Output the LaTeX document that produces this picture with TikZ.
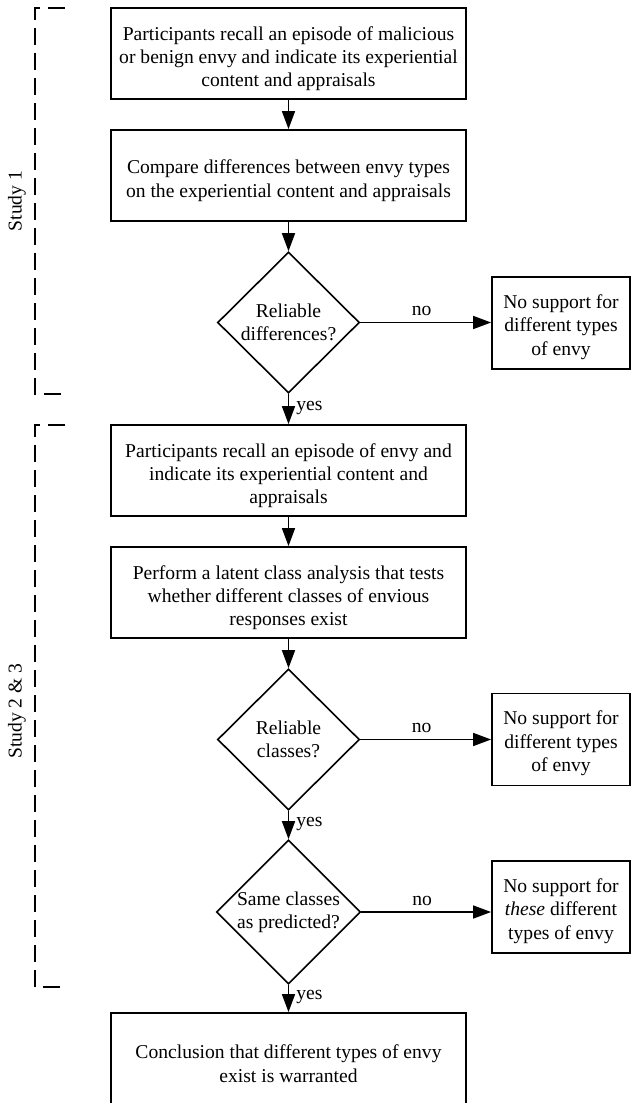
\documentclass[tikz,border=0pt]{standalone}
\usepackage{fontspec}
\setmainfont{Liberation Serif}
\usetikzlibrary{shapes.geometric,arrows.meta}
\newcommand\toppad{\rule{0pt}{24pt}}
\newcommand\sidepad{\rule{0pt}{21.5pt}}
\tikzset{
  every node/.style={font=\fontsize{19.6}{23.4}\selectfont},
  mainbox/.style={draw, line width=1.8pt, minimum width=355pt, minimum height=91pt, align=center, inner sep=0pt},
  sidebox/.style={draw, line width=1.8pt, minimum width=138pt, minimum height=92pt, align=center, inner sep=0pt},
  decide/.style={draw, diamond, line width=1.6pt, minimum width=142pt, minimum height=141pt, align=center, inner sep=0pt},
  conn/.style={line width=1.6pt, -{Triangle[length=18pt,width=13pt]}},
  bracket/.style={line width=1.8pt, dash pattern=on 17pt off 8pt},
  yeslbl/.style={inner sep=2pt, right=5pt, yshift=1pt},
  nolbl/.style={inner sep=2pt, above=4pt, xshift=-4pt}
}
\begin{document}
\begin{tikzpicture}[x=1pt,y=-1pt]
\useasboundingbox (0,0) rectangle (631,1103);

\node[mainbox] (b1) at (288.5,53.5) {\toppad Participants recall an episode of malicious\\or benign envy and indicate its experiential\\content and appraisals};
\node[mainbox] (b2) at (288.5,175.5) {\toppad Compare differences between envy types\\on the experiential content and appraisals};
\node[decide] (d1) at (288.5,322.5) {Reliable\\differences?};
\node[sidebox] (s1) at (561,323) {\sidepad No support for\\different types\\of envy};
\node[mainbox] (b3) at (288.5,470.5) {\toppad Participants recall an episode of envy and\\indicate its experiential content and\\appraisals};
\node[mainbox] (b4) at (288.5,592.5) {\toppad Perform a latent class analysis that tests\\whether different classes of envious\\responses exist};
\node[decide] (d2) at (288.5,739.5) {Reliable\\classes?};
\node[sidebox] (s2) at (561,739.5) {\sidepad No support for\\different types\\of envy};
\node[decide] (d3) at (288.5,912) {Same classes\\as predicted?};
\node[sidebox] (s3) at (561,907) {\sidepad No support for\\\textit{these} different\\types of envy};
\node[mainbox] (b5) at (288.5,1058.5) {\toppad Conclusion that different types of envy\\exist is warranted};

\draw[conn] (b1) -- (b2);
\draw[conn] (b2) -- (d1);
\draw[conn] (d1.east) -- node[nolbl] {no} (d1.east -| s1.west);
\draw[conn] (d1) -- node[yeslbl] {yes} (b3);
\draw[conn] (b3) -- (b4);
\draw[conn] (b4) -- (d2);
\draw[conn] (d2.east) -- node[nolbl] {no} (d2.east -| s2.west);
\draw[conn] (d2) -- node[yeslbl] {yes} (d3);
\draw[conn] (d3.east) -- node[nolbl] {no} (d3.east -| s3.west);
\draw[conn] (d3) -- node[yeslbl] {yes} (b5);

\coordinate (t1a) at (65,8);
\coordinate (t1b) at (65,394);
\coordinate (t2a) at (65,425);
\coordinate (t2b) at (65,987);
\draw[bracket] (t1a) -- (35,8) -- (35,394) -- (t1b);
\draw[bracket] (t2a) -- (35,425) -- (35,987) -- (t2b);
\node[rotate=90] (st1) at (17,201) {Study 1};
\node[rotate=90] (st2) at (17,711) {Study 2 \& 3};
\end{tikzpicture}
\end{document}
